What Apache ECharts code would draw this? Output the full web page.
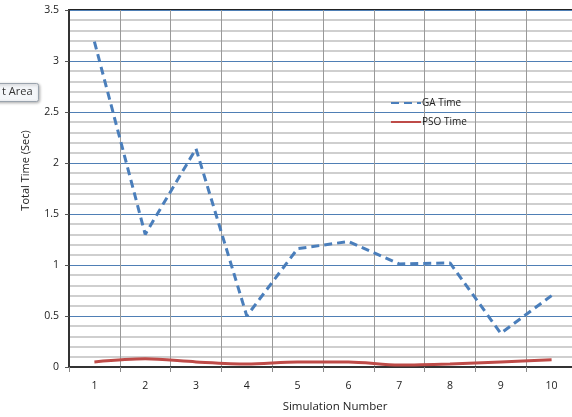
<!DOCTYPE html>
<html><head><meta charset="utf-8">
<script src="https://cdn.jsdelivr.net/npm/echarts@6/dist/echarts.min.js"></script>
<style>html,body{margin:0;padding:0;background:#fff}#c{width:572px;height:417px}</style>
</head><body><div id="c"></div>
<script>
const categories = ['1','2','3','4','5','6','7','8','9','10'];
const gaTime = [3.19, 1.30, 2.14, 0.50, 1.16, 1.23, 1.01, 1.02, 0.33, 0.70];
const psoTime = [0.05, 0.08, 0.05, 0.03, 0.05, 0.05, 0.02, 0.03, 0.05, 0.07];
const seriesNames = ['GA Time', 'PSO Time'];
const yAxisName = 'Total Time (Sec)';
const xAxisName = 'Simulation Number';

const font = 'Open Sans';
const chart = echarts.init(document.getElementById('c'));
chart.setOption({
  animation: false,
  grid: {left: 69, top: 10, width: 508, height: 357, containLabel: false, outerBoundsMode: 'none',
         show: true, borderColor: '#222', borderWidth: 2, backgroundColor: 'transparent'},
  legend: {
    orient: 'vertical', left: 385, top: 93, itemGap: 9, itemWidth: 30, itemHeight: 6,
    itemStyle: {opacity: 0},
    textStyle: {fontFamily: font, fontSize: 10, color: '#222', padding: [0,0,0,-4]},
    data: seriesNames
  },
  xAxis: {
    type: 'category', data: categories, boundaryGap: true,
    name: xAxisName, nameLocation: 'middle', nameGap: 34,
    nameTextStyle: {fontFamily: font, fontSize: 11.5, color: '#222', padding: [0,0,0,24]},
    axisLine: {lineStyle: {color: '#333', width: 2}},
    axisTick: {show: true, length: 5, lineStyle: {color: '#888'}},
    axisLabel: {fontFamily: font, fontSize: 10.5, color: '#222', margin: 14},
    splitLine: {show: true, lineStyle: {color: '#999', width: 1}}
  },
  yAxis: {
    type: 'value', min: 0, max: 3.5, interval: 0.5,
    name: yAxisName, nameLocation: 'middle', nameGap: 38, nameRotate: 90,
    nameTextStyle: {fontFamily: font, fontSize: 11, color: '#222', padding: [0,0,0,36]},
    axisLine: {show: true, lineStyle: {color: '#333', width: 2}},
    axisTick: {show: true, length: 4, lineStyle: {color: '#555'}},
    axisLabel: {fontFamily: font, fontSize: 10.5, color: '#222', margin: 10},
    splitLine: {show: true, lineStyle: {color: '#4f7fb5', width: 1}},
    minorTick: {show: false, splitNumber: 5},
    minorSplitLine: {show: true, lineStyle: {color: '#cfcfcf', width: 2}}
  },
  series: [
    {name: seriesNames[0], type: 'line', data: gaTime, symbol: 'none', z: 3,
     lineStyle: {color: '#4a7ebb', width: 3, type: [8, 5]}, itemStyle: {color: '#4a7ebb'}},
    {name: seriesNames[1], type: 'line', data: psoTime, symbol: 'none', smooth: 0.3, z: 3,
     lineStyle: {color: '#be4b48', width: 3}, itemStyle: {color: '#be4b48'}}
  ],
  graphic: [
    {type: 'rect', left: -6, top: 83, shape: {width: 44, height: 18, r: 2},
     style: {fill: '#f4f6f9', stroke: '#9aa3ad', lineWidth: 1, shadowBlur: 3, shadowColor: 'rgba(0,0,0,0.3)', shadowOffsetX: 1, shadowOffsetY: 1}, z: 10},
    {type: 'text', left: 2, top: 86, style: {text: 't Area', fontFamily: font, fontSize: 11, fill: '#333'}, z: 11}
  ]
});
</script></body></html>
